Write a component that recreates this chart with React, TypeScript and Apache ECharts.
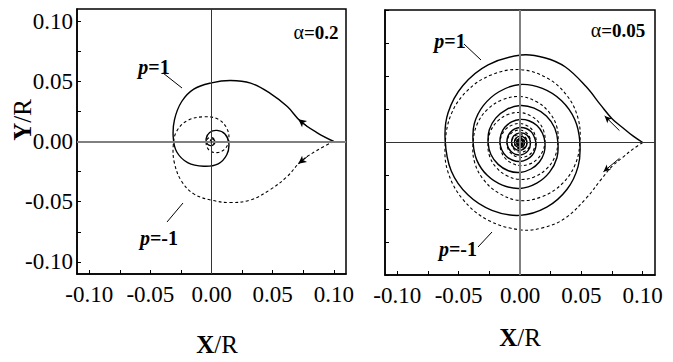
import React, { useEffect, useRef } from "react";
import * as echarts from "echarts";

// ---- tick values ----
const TICK_VALUES = [-0.1, -0.075, -0.05, -0.025, 0, 0.025, 0.05, 0.075, 0.1];
const LABEL_VALUES = [-0.1, -0.05, 0, 0.05, 0.1];

// ---- panel (alpha = 0.2) ----
const LEFT_P1: number[][] = [
  [0.1, 0.0], [0.0865, 0.0072], [0.0728, 0.0168], [0.062, 0.029], [0.048, 0.04],
  [0.032, 0.0485], [0.0155, 0.0507], [0.0, 0.0487], [-0.0145, 0.0435], [-0.0245, 0.033],
  [-0.0303, 0.018], [-0.0313, 0.0035], [-0.0285, -0.0085], [-0.0195, -0.0175], [-0.0063, -0.0205],
  [0.0055, -0.0185], [0.0125, -0.011], [0.0142, -0.0015], [0.011, 0.0062], [0.0045, 0.0092],
  [-0.0015, 0.0075], [-0.0043, 0.0025], [-0.0033, -0.0022], [0.0003, -0.0033], [0.0026, -0.0012],
  [0.0019, 0.0017], [0.0001, 0.0019], [-0.0009, 0.0003],
];
const LEFT_PM1: number[][] = [
  [0.1, 0.0], [0.0865, -0.0072], [0.0728, -0.0168], [0.062, -0.029], [0.048, -0.04],
  [0.032, -0.0485], [0.0155, -0.0507], [0.0, -0.0487], [-0.0145, -0.0435], [-0.0245, -0.033],
  [-0.0303, -0.018], [-0.0313, -0.0035], [-0.0285, 0.0085], [-0.0195, 0.0175], [-0.0063, 0.0205],
  [0.0055, 0.0185], [0.0125, 0.011], [0.0142, 0.0015], [0.011, -0.0062], [0.0045, -0.0092],
  [-0.0015, -0.0075], [-0.0043, -0.0025], [-0.0033, 0.0022], [0.0003, 0.0033], [0.0026, 0.0012],
  [0.0019, -0.0017], [0.0001, -0.0019], [-0.0009, -0.0003],
];

// ---- panel (alpha = 0.05) ----
const RIGHT_P1: number[][] = [
  [0.1, 0.0], [0.092, 0.005], [0.084, 0.011], [0.075, 0.018], [0.066, 0.028],
  [0.054, 0.042], [0.037, 0.057], [0.02, 0.064], [0.001, 0.066],
  [-0.026, 0.0586], [-0.0465, 0.043], [-0.0586, 0.0225], [-0.061, 0.002],
  [-0.056, -0.0215], [-0.0425, -0.0395], [-0.0229, -0.0512], [0.0, -0.055],
  [0.0218, -0.0488], [0.0382, -0.0355], [0.0473, -0.0182], [0.0488, 0.0],
  [0.0447, 0.0172], [0.0339, 0.0315], [0.0182, 0.0408], [0.0, 0.0438],
  [-0.0171, 0.0383], [-0.0299, 0.0278], [-0.0372, 0.0143], [-0.0382, 0.0],
  [-0.0351, -0.0135], [-0.0267, -0.0248], [-0.0144, -0.0322], [0.0, -0.0347],
  [0.0137, -0.0307], [0.0241, -0.0224], [0.0301, -0.0115], [0.0309, 0.0],
  [0.0283, 0.0109], [0.0215, 0.02], [0.0115, 0.026], [0.0, 0.0279],
  [-0.0111, 0.0249], [-0.0198, 0.0184], [-0.025, 0.0096], [-0.026, 0.0],
  [-0.0237, -0.0091], [-0.0178, -0.0165], [-0.0095, -0.0213], [0.0, -0.0226],
  [0.0089, -0.02], [0.0158, -0.0147], [0.0197, -0.0076], [0.0203, 0.0],
  [0.0183, 0.007], [0.0138, 0.0128], [0.0073, 0.0164], [0.0, 0.0174],
  [-0.0069, 0.0155], [-0.0124, 0.0115], [-0.0155, 0.006], [-0.0163, 0.0],
  [-0.0148, -0.0057], [-0.0112, -0.0104], [-0.0059, -0.0134], [0.0, -0.0143],
  [0.0057, -0.0127], [0.0101, -0.0094], [0.0125, -0.0048], [0.013, 0.0],
  [0.0089, 0.0083], [0.0, 0.0113], [-0.008, 0.0075], [-0.0106, 0.0],
  [-0.0073, -0.0068], [0.0, -0.0094], [0.0066, -0.0061], [0.0085, 0.0],
  [0.0058, 0.0054], [0.0, 0.0073], [-0.0052, 0.0049], [-0.0069, 0.0],
  [-0.0047, -0.0044], [0.0, -0.006], [0.0043, -0.004], [0.0057, 0.0],
  [0.0038, 0.0035], [0.0, 0.0048], [-0.0034, 0.0032], [-0.0045, 0.0],
  [-0.003, -0.0028], [0.0, -0.0039], [0.0028, -0.0026], [0.0037, 0.0],
  [0.0024, 0.0023], [0.0, 0.003], [-0.0021, 0.002], [-0.0028, 0.0],
  [-0.0019, -0.0018], [0.0, -0.0025], [0.0018, -0.0017], [0.0024, 0.0],
  [0.0015, 0.0014], [0.0, 0.0019], [-0.0013, 0.0012], [-0.0018, 0.0],
  [-0.0012, -0.0011], [0.0, -0.0015], [0.001, -0.001], [0.0013, 0.0],
];
const RIGHT_PM1: number[][] = [
  [0.1, 0.0], [0.092, -0.005], [0.084, -0.011], [0.075, -0.018], [0.066, -0.028],
  [0.054, -0.042], [0.037, -0.057], [0.02, -0.064], [0.001, -0.066],
  [-0.026, -0.0586], [-0.0465, -0.043], [-0.0586, -0.0225], [-0.061, -0.002],
  [-0.056, 0.0215], [-0.0425, 0.0395], [-0.0229, 0.0512], [0.0, 0.055],
  [0.0218, 0.0488], [0.0382, 0.0355], [0.0473, 0.0182], [0.0488, 0.0],
  [0.0447, -0.0172], [0.0339, -0.0315], [0.0182, -0.0408], [0.0, -0.0438],
  [-0.0171, -0.0383], [-0.0299, -0.0278], [-0.0372, -0.0143], [-0.0382, 0.0],
  [-0.0351, 0.0135], [-0.0267, 0.0248], [-0.0144, 0.0322], [0.0, 0.0347],
  [0.0137, 0.0307], [0.0241, 0.0224], [0.0301, 0.0115], [0.0309, 0.0],
  [0.0283, -0.0109], [0.0215, -0.02], [0.0115, -0.026], [0.0, -0.0279],
  [-0.0111, -0.0249], [-0.0198, -0.0184], [-0.025, -0.0096], [-0.026, 0.0],
  [-0.0237, 0.0091], [-0.0178, 0.0165], [-0.0095, 0.0213], [0.0, 0.0226],
  [0.0089, 0.02], [0.0158, 0.0147], [0.0197, 0.0076], [0.0203, 0.0],
  [0.0183, -0.007], [0.0138, -0.0128], [0.0073, -0.0164], [0.0, -0.0174],
  [-0.0069, -0.0155], [-0.0124, -0.0115], [-0.0155, -0.006], [-0.0163, 0.0],
  [-0.0148, 0.0057], [-0.0112, 0.0104], [-0.0059, 0.0134], [0.0, 0.0143],
  [0.0057, 0.0127], [0.0101, 0.0094], [0.0125, 0.0048], [0.013, 0.0],
  [0.0089, -0.0083], [0.0, -0.0113], [-0.008, -0.0075], [-0.0106, 0.0],
  [-0.0073, 0.0068], [0.0, 0.0094], [0.0066, 0.0061], [0.0085, 0.0],
  [0.0058, -0.0054], [0.0, -0.0073], [-0.0052, -0.0049], [-0.0069, 0.0],
  [-0.0047, 0.0044], [0.0, 0.006], [0.0043, 0.004], [0.0057, 0.0],
  [0.0038, -0.0035], [0.0, -0.0048], [-0.0034, -0.0032], [-0.0045, 0.0],
  [-0.003, 0.0028], [0.0, 0.0039], [0.0028, 0.0026], [0.0037, 0.0],
  [0.0024, -0.0023], [0.0, -0.003], [-0.0021, -0.002], [-0.0028, 0.0],
  [-0.0019, 0.0018], [0.0, 0.0025], [0.0018, 0.0017], [0.0024, 0.0],
  [0.0015, -0.0014], [0.0, -0.0019], [-0.0013, -0.0012], [-0.0018, 0.0],
  [-0.0012, 0.0011], [0.0, 0.0015], [0.001, 0.001], [0.0013, 0.0],
];

// arrow segments [tail, tip]
const LEFT_ARROWS: number[][][] = [
  [[0.079, 0.012], [0.071, 0.0185]],
  [[0.079, -0.012], [0.071, -0.0185]],
];
const RIGHT_ARROWS: number[][][] = [
  [[0.081, 0.009], [0.069, 0.02]],
  [[0.081, -0.012], [0.068, -0.022]],
];
const START_POINT: number[][] = [[0.1, 0.0]];

const FONT = "Liberation Serif";

function makeXAxis(gridIndex: number) {
  return {
    type: "value",
    gridIndex,
    min: -0.11,
    max: 0.11,
    splitLine: { show: false },
    axisLine: { show: true, onZero: false, lineStyle: { color: "#000", width: 1.5 } },
    axisTick: { show: true, inside: true, length: 4, customValues: TICK_VALUES, lineStyle: { color: "#000", width: 1 } },
    axisLabel: {
      customValues: LABEL_VALUES,
      formatter: (v: number) => v.toFixed(2),
      fontFamily: FONT,
      fontSize: 23,
      color: "#000",
      margin: 9,
    },
  };
}

function makeYAxis(gridIndex: number, lim: number, showLabels: boolean) {
  return {
    type: "value",
    gridIndex,
    min: -lim,
    max: lim,
    splitLine: { show: false },
    axisLine: { show: true, onZero: false, lineStyle: { color: "#000", width: 1.5 } },
    axisTick: { show: true, inside: true, length: 4, customValues: TICK_VALUES, lineStyle: { color: "#000", width: 1 } },
    axisLabel: {
      show: showLabels,
      customValues: LABEL_VALUES,
      formatter: (v: number) => v.toFixed(2),
      fontFamily: FONT,
      fontSize: 23,
      color: "#000",
      margin: 4,
    },
  };
}

function helper(idx: number, arrows: number[][][], size: number[], hColor: string, hWidth: number, vColor: string, vWidth: number) {
  return {
    type: "line",
    xAxisIndex: idx,
    yAxisIndex: idx,
    data: START_POINT,
    showSymbol: false,
    symbol: "none",
    silent: true,
    lineStyle: { width: 0 },
    markLine: {
      silent: true,
      symbol: ["none", "none"],
      label: { show: false },
      data: [
        { yAxis: 0, lineStyle: { color: hColor, width: hWidth, type: "solid" } },
        { xAxis: 0, lineStyle: { color: vColor, width: vWidth, type: "solid" } },
        ...arrows.map((a) => [
          { coord: a[0], symbol: "none", lineStyle: { color: "#000", width: 1, type: "solid" } },
          { coord: a[1], symbol: "arrow", symbolSize: size },
        ]),
      ],
    },
  };
}

function curve(data: number[][], idx: number, dashed: boolean) {
  return {
    type: "custom",
    xAxisIndex: idx,
    yAxisIndex: idx,
    data,
    silent: true,
    encode: { x: 0, y: 1 },
    renderItem: (params: any, api: any) => {
      if (params.dataIndex !== 0) return null;
      const pts = data.map((p) => api.coord(p));
      return {
        type: "polyline",
        silent: true,
        shape: { points: pts, smooth: 0.38 },
        style: {
          stroke: "#000",
          fill: null,
          lineWidth: dashed ? 1.1 : 1.4,
          lineDash: dashed ? [3, 2.5] : null,
        },
      };
    },
  };
}

function richLabel(x: number, y: number, text: string, rich: any, rotation = 0) {
  return {
    type: "text",
    x,
    y,
    rotation,
    silent: true,
    style: {
      text,
      rich,
      fontFamily: FONT,
      fontSize: 20,
      align: "center",
      verticalAlign: "middle",
      fill: "#000",
    },
  };
}

const pRich = {
  i: { fontFamily: FONT, fontSize: 20, fontStyle: "italic", fontWeight: "bold", fill: "#000" },
  b: { fontFamily: FONT, fontSize: 20, fontWeight: "bold", fill: "#000" },
};
const aRich = {
  a: { fontFamily: FONT, fontSize: 20, fill: "#000" },
  b: { fontFamily: FONT, fontSize: 19, fontWeight: "bold", fill: "#000" },
};
const axRich = {
  b: { fontFamily: FONT, fontSize: 25, fontWeight: "bold", fill: "#000" },
  n: { fontFamily: FONT, fontSize: 25, fill: "#000" },
};

export default function App() {
  const ref = useRef<HTMLDivElement>(null);
  useEffect(() => {
    if (!ref.current) return;
    const chart = echarts.init(ref.current, undefined, { renderer: "svg" });
    chart.setOption({
      animation: false,
      backgroundColor: "#fff",
      grid: [
        { left: 77, top: 9, width: 269, height: 265, show: true, borderColor: "#000", borderWidth: 1.5, backgroundColor: "transparent" },
        { left: 385, top: 10, width: 270, height: 265, show: true, borderColor: "#000", borderWidth: 1.5, backgroundColor: "transparent" },
      ],
      xAxis: [makeXAxis(0), makeXAxis(1)],
      yAxis: [makeYAxis(0, 0.11, true), makeYAxis(1, 0.1, false)],
      series: [
        helper(0, LEFT_ARROWS, [6, 8], "#808080", 2, "#333", 1),
        helper(1, RIGHT_ARROWS, [5, 7], "#333", 1, "#808080", 2),
        curve(LEFT_P1, 0, false),
        curve(LEFT_PM1, 0, true),
        curve(RIGHT_P1, 1, false),
        curve(RIGHT_PM1, 1, true),
      ],
      graphic: [
        richLabel(22, 120, "{b|Y}{n|/R}", axRich, Math.PI / 2),
        richLabel(217, 344, "{b|X}{n|/R}", axRich),
        richLabel(520, 337, "{b|X}{n|/R}", axRich),
        richLabel(316, 32, "{a|α}{b|=0.2}", aRich),
        richLabel(618, 30, "{a|α}{b|=0.05}", aRich),
        richLabel(154, 67, "{i|p}{b|=1}", pRich),
        richLabel(159, 238, "{i|p}{b|=-1}", pRich),
        richLabel(450, 41, "{i|p}{b|=1}", pRich),
        richLabel(458, 249, "{i|p}{b|=-1}", pRich),
        { type: "line", silent: true, shape: { x1: 163, y1: 73, x2: 182, y2: 88 }, style: { stroke: "#000", lineWidth: 1 } },
        { type: "line", silent: true, shape: { x1: 167, y1: 222, x2: 183, y2: 203 }, style: { stroke: "#000", lineWidth: 1 } },
        { type: "line", silent: true, shape: { x1: 464, y1: 44, x2: 481, y2: 60 }, style: { stroke: "#000", lineWidth: 1 } },
        { type: "line", silent: true, shape: { x1: 478, y1: 247, x2: 492, y2: 232 }, style: { stroke: "#000", lineWidth: 1 } },
      ],
    });
    return () => chart.dispose();
  }, []);
  return (
    <div
      ref={ref}
      style={{ position: "fixed", left: 0, top: 0, width: 673, height: 362, background: "#fff" }}
    />
  );
}
